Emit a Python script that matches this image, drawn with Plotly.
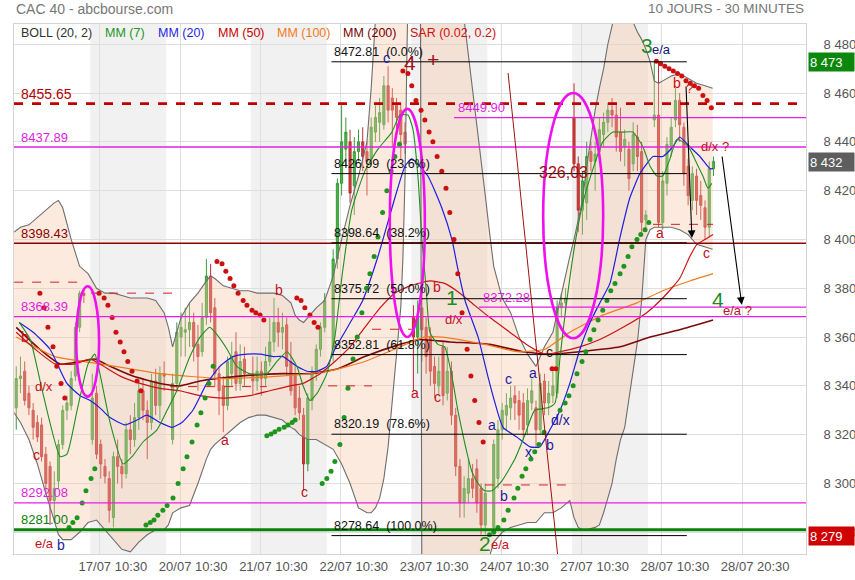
import plotly.graph_objects as go

# ---------------- time axis: 19 slots per trading day (18 half-hour bars + gap) ----------------
SLOTS = 19
day_first_bar = [1, 0, 0, 0, 0, 0, 0, 0, 0]   # 16/07 .. 28/07

# ---------------- candles (open, high, low, close) per day ----------------
ohlc_1607 = [(8331,8348,8322,8343),(8343,8352,8337,8344),(8346,8350,8332,8334),(8337,8340,8328,8331),
             (8330,8333,8318,8323),(8325,8328,8317,8319),(8324,8327,8309,8311),(8312,8315,8296,8300),
             (8307,8309,8283,8293),(8293,8305,8284,8298),(8301,8318,8298,8316),(8316,8332,8314,8330),
             (8330,8336,8326,8333),(8332,8346,8330,8343),(8344,8366,8342,8364),(8364,8379,8362,8378),
             (8378,8380,8374,8377)]
ohlc_1707 = [(8318,8345,8316,8335),(8337,8340,8310,8312),(8316,8318,8302,8308),(8307,8310,8300,8303),
             (8302,8305,8284,8289),(8286,8313,8282,8311),(8311,8318,8300,8307),(8307,8310,8298,8304),
             (8304,8325,8302,8322),(8322,8328,8312,8318),(8318,8333,8315,8327),(8327,8341,8322,8338),
             (8338,8343,8326,8330),(8330,8334,8310,8325),(8325,8345,8322,8342),(8342,8347,8328,8332),
             (8332,8348,8326,8345),(8345,8350,8338,8344)]
ohlc_2007 = [(8318,8345,8316,8341),(8341,8366,8338,8362),(8360,8370,8352,8364),(8362,8372,8352,8363),
             (8363,8374,8356,8366),(8366,8370,8350,8356),(8357,8365,8338,8352),(8354,8374,8352,8368),
             (8368,8392,8365,8385),(8385,8390,8366,8370),(8372,8376,8340,8345),(8345,8348,8328,8338),
             (8340,8344,8321,8332),(8332,8352,8330,8350),(8345,8358,8340,8352),(8354,8362,8338,8341),
             (8341,8357,8338,8350),(8351,8356,8340,8345)]
ohlc_2107 = [(8345,8352,8336,8342),(8342,8352,8338,8346),(8346,8350,8336,8343),(8343,8356,8340,8350),
             (8350,8368,8348,8358),(8358,8376,8354,8366),(8366,8372,8356,8362),(8362,8370,8355,8364),
             (8365,8368,8344,8348),(8350,8358,8336,8338),(8345,8348,8328,8331),(8335,8340,8326,8329),
             (8328,8331,8297,8308),(8308,8337,8305,8335),(8334,8348,8330,8346),(8345,8357,8342,8355),
             (8355,8366,8352,8364),(8364,8378,8362,8375)]
ohlc_2207 = [(8355,8396,8350,8392),(8392,8425,8388,8423),(8423,8455,8418,8440),(8437,8450,8430,8444),
             (8440,8445,8415,8419),(8422,8442,8410,8436),(8436,8445,8432,8440),(8440,8446,8428,8434),
             (8436,8440,8418,8432),(8433,8450,8430,8446),(8444,8455,8440,8450),(8448,8458,8440,8452),
             (8447,8467,8445,8463),(8463,8471,8448,8453),(8458,8462,8438,8453),(8455,8458,8445,8450),
             (8453,8456,8433,8443),(8444,8448,8435,8439)]
ohlc_2307 = [(8368,8373,8338,8360),(8360,8375,8345,8368),(8372,8378,8350,8363),(8364,8368,8345,8352),
             (8360,8364,8340,8346),(8348,8352,8335,8341),(8340,8352,8336,8346),(8356,8358,8332,8336),
             (8337,8356,8334,8346),(8346,8350,8324,8328),(8328,8331,8303,8307),(8307,8310,8286,8292),
             (8292,8303,8286,8298),(8296,8310,8292,8302),(8302,8308,8294,8298),(8306,8310,8288,8292),
             (8298,8300,8279,8283),(8283,8300,8279,8296)]
ohlc_2407 = [(8282,8318,8279,8316),(8302,8326,8298,8322),(8322,8333,8318,8330),(8328,8337,8322,8332),
             (8331,8340,8326,8335),(8336,8340,8326,8333),(8334,8338,8322,8328),(8333,8337,8318,8322),
             (8324,8339,8320,8334),(8333,8343,8330,8338),(8331,8334,8315,8322),(8322,8345,8320,8341),
             (8342,8345,8328,8333),(8333,8342,8328,8337),(8336,8346,8333,8340),(8337,8375,8335,8372),
             (8372,8378,8368,8374),(8374,8380,8370,8376)]
ohlc_2707 = [(8450,8464,8428,8431),(8431,8434,8403,8412),(8412,8428,8402,8424),(8415,8440,8408,8434),
             (8436,8440,8428,8432),(8432,8440,8420,8435),(8436,8450,8432,8445),(8443,8452,8438,8448),
             (8448,8456,8444,8453),(8453,8458,8446,8451),(8451,8455,8436,8442),(8444,8454,8432,8436),
             (8438,8445,8430,8441),(8437,8440,8420,8425),(8431,8448,8428,8443),(8442,8447,8428,8434),
             (8436,8440,8403,8407),(8408,8412,8404,8410)]
ohlc_2807 = [(8449,8473,8446,8451),(8451,8473,8405,8407),(8407,8428,8404,8424),(8423,8442,8418,8439),
             (8438,8450,8434,8446),(8449,8462,8446,8457),(8457,8460,8440,8447),(8446,8448,8422,8427),
             (8430,8433,8414,8418),(8416,8430,8412,8427),(8426,8429,8410,8416),(8418,8424,8408,8414),
             (8413,8416,8400,8405),(8405,8432,8401,8429),(8429,8434,8426,8432)]
days_ohlc = [ohlc_1607, ohlc_1707, ohlc_2007, ohlc_2107, ohlc_2207, ohlc_2307, ohlc_2407, ohlc_2707, ohlc_2807]

# ---------------- moving averages (slot, value) ----------------
mm7_t = [1.7,4.3,7.3,11.4,13.0,15.4,18.0,19.6,20.8,23.2,26.3,28.4,31.0,34.3,36.7,39.0,42.1,44.5,46.8,48.5,50.9,53.2,56.3,60.3,
         62.7,65.1,67.4,68.9,70.5,72.2,74.5,76.4,78.1,80.4,83.5,86.6,89.9,91.8,93.7,94.9,96.1,97.0,98.0,98.9,100.8,102.4,104.1,
         105.5,107.2,108.8,110.3,111.9,113.6,115.9,119.0,121.4,123.7,126.8,128.5,129.7,131.3,133.2,135.1,137.5,139.8,142.2,144.6,
         146.9,149.3,151.0,152.6,154.0,155.7,157.3,158.8,160.4,162.1,163.5,164.7,165.6]
mm7_v = [8366,8359,8337,8311,8312,8330,8349,8353,8345,8325,8308,8311,8317,8322,8330,8338,8352,8360,8364,8361,8355,8348,8345,8345,
         8350,8354,8348,8340,8334,8337,8345,8360,8385,8412,8428,8437,8444,8451,8451,8445,8425,8400,8380,8362,8357,8356,8344,
         8330,8316,8305,8300,8297,8297,8301,8310,8320,8330,8331,8333,8352,8375,8398,8415,8429,8440,8444,8444,
         8444,8438,8430,8426,8426,8433,8441,8440,8437,8431,8426,8421,8423]
mm20_t = [1.7,5.0,9.0,13.0,16.1,18.5,20.8,23.2,26.7,29.6,31.9,35.0,37.9,40.2,42.8,46.1,49.2,52.3,55.6,58.7,61.8,64.1,67.4,69.8,
          72.2,74.5,76.4,80.4,83.0,86.6,90.6,93.0,94.6,98.4,101.7,104.1,105.5,107.2,110.3,112.6,114.3,116.2,119.5,122.6,124.9,
          127.3,129.7,132.0,134.4,136.8,139.1,141.5,143.9,146.2,148.6,150.2,151.7,154.0,156.4,158.0,160.4,162.8,165.2,165.9]
mm20_v = [8366,8362,8355,8341,8336,8334,8331,8327,8324,8326,8328,8325,8323,8325,8330,8341,8348,8352,8353,8353,8352,8352,8348,8346,
          8346,8348,8355,8367,8375,8393,8417,8430,8433,8426,8413,8400,8388,8375,8360,8344,8333,8323,8319,8315,8315,
          8322,8330,8341,8355,8366,8374,8382,8401,8417,8427,8431,8434,8434,8438,8442,8438,8434,8429,8429]
mm50_t = [1.0,5.5,10.2,14.9,18.5,20.8,25.6,30.3,35.0,39.7,44.5,49.9,56.3,61.0,65.8,68.9,72.9,76.4,80.0,83.5,87.1,90.6,94.2,98.9,
          102.4,106.0,109.5,113.1,117.8,122.6,126.1,129.7,134.4,139.1,144.6,150.2,154.0,158.0,160.4,162.1,164.0,165.9]
mm50_v = [8362,8355,8349,8349,8351,8349,8344,8341,8339,8338,8336,8335,8336,8338,8340,8341,8345,8350,8356,8364,8372,8378,8381,8383,
          8382,8378,8373,8368,8362,8356,8353,8354,8356,8359,8364,8370,8376,8384,8393,8398,8400,8402]
mm100_t = [1.0,10.2,20.8,35.0,49.9,63.4,74.8,83.5,91.8,97.5,101.7,111.9,119.5,126.1,132.0,139.8,147.9,154.0,160.4,165.9]
mm100_v = [8360,8352,8349,8345,8343,8344,8346,8350,8356,8360,8360,8357,8354,8355,8362,8369,8374,8379,8383,8386]
mm200_t = [1.0,6.6,11.4,16.1,19.6,23.2,28.6,35.0,39.7,44.5,53.9,64.1,70.5,77.1,83.5,91.8,96.5,103.6,113.1,120.9,127.3,134.4,
           143.9,151.0,158.0,165.9]
mm200_v = [8364,8355,8349,8350,8351,8348,8344,8341,8340,8342,8344,8345,8345,8347,8352,8357,8359,8358,8357,8354,8353,8354,
           8356,8360,8363,8367]

# ---------------- Bollinger (20, 2) ----------------
boll_t = [0.5,2,4,6,8,10,11,12,14,16,18,20,22,24,26,28,30,32,34,36,37,38,39,40,42,44,46,47,48,50,52,54,56,58,60,62,64,66,67,68,
          69,70,72,74,76,78,80,82,84,85,86,87,88,89,90,91,92,92.5,93,93.5,94,95,96,96.6,97,98,100,102,104,106,107,108,109,110,
          111,112,113,114,116,118,120,122,124,125,126,128,130,132,133,134,135,136,138,139,140,141,142,143,144,145,146,147,148,
          149,150,151,152,153,154,156,158,160,162,164,165.8]
boll_up = [8403,8405,8406,8409,8412,8415,8416,8413,8400,8389,8386,8380,8378,8378,8377,8376,8376,8376,8375,8370,8364,8356,8362,
           8368,8374,8378,8383,8385,8384,8381,8380,8379,8379,8378,8378,8378,8377,8374,8369,8367,8366,8368,8372,8375,8385,8400,
           8414,8426,8440,8462,8490,8498,8505,8503,8500,8498,8496,8496,8497,8497,8498,8499,8500,8500,8500,8500,8502,8502,8500,
           8496,8490,8476,8462,8446,8432,8418,8403,8389,8376,8370,8360,8353,8348,8352,8356,8362,8378,8393,8400,8408,8416,8430,
           8453,8462,8470,8480,8487,8495,8500,8498,8492,8489,8485,8482,8478,8473,8465,8464,8465,8467,8468,8466,8464,8463,8462]
boll_lo = [8329,8325,8318,8308,8296,8284,8279,8277,8277,8280,8284,8285,8281,8277,8273,8272,8276,8279,8281,8281,8283,8288,8289,
           8290,8291,8300,8310,8314,8316,8319,8322,8325,8327,8328,8328,8327,8326,8323,8322,8320,8319,8318,8318,8316,8314,8308,
           8300,8290,8288,8288,8290,8294,8302,8315,8334,8352,8372,8392,8425,8480,8530,8550,8550,8540,8250,8240,8236,8236,8238,
           8242,8245,8248,8252,8256,8260,8265,8270,8276,8280,8282,8283,8284,8284,8286,8288,8288,8290,8293,8286,8282,8281,8281,
           8282,8283,8288,8294,8300,8310,8318,8323,8335,8348,8358,8375,8400,8404,8405,8405,8405,8405,8404,8402,8398,8397,8396]

# ---------------- SAR (0.02, 0.2) ----------------
sar_red_t = [6.6,7.6,8.5,9.7,10.6,11.6,12.5,
             20.6,21.8,22.7,23.7,24.6,25.6,26.5,27.4,28.4,29.6,30.5,
             48.5,49.7,50.6,51.6,52.5,53.5,54.7,55.6,56.8,57.7,58.7,59.6,
             67.4,68.4,69.3,70.5,71.5,72.4,
             92.5,93.7,94.6,95.6,96.8,97.7,98.7,99.6,100.6,101.7,102.7,103.6,104.6,105.5,106.5,107.7,108.6,109.5,110.5,111.5,
             127.8,128.7,
             152.5,153.5,154.5,155.5,156.5,157.5,158.5,159.5,160.5,161.5,162.5,163.5,164.5,165.5]
sar_red_v = [8378,8372,8364,8356,8348,8341,8335,
             8378,8376,8373,8368,8362,8358,8354,8350,8346,8342,8338,
             8391,8390,8387,8384,8381,8378,8375,8373,8371,8370,8369,8367,
             8376,8375,8372,8369,8366,8364,
             8469,8468,8463,8457,8453,8449,8444,8440,8434,8428,8421,8411,8400,8386,8370,8355,8344,8334,8325,8317,
             8347,8347,
             8473,8472,8471,8470,8469,8468,8467,8465,8464,8463,8462,8459,8457,8454]
sar_green_t = [13.5,14.4,15.4,16.6,17.5,18.7,19.6,
               31.7,32.7,33.6,34.5,35.7,36.7,38.1,39.3,40.5,41.4,42.6,43.8,44.7,45.7,46.6,47.6,
               60.3,61.3,62.2,63.2,64.4,65.3,66.3,67.0,
               73.4,74.5,75.5,76.4,77.6,78.6,79.5,80.7,81.7,82.8,83.9,84.7,85.7,86.6,87.7,88.7,89.7,90.6,91.7,
               113.0,114.0,115.0,116.4,117.4,118.8,119.7,120.7,121.6,122.8,123.7,124.7,125.9,
               129.7,130.9,131.8,132.8,133.7,134.9,135.8,136.8,137.7,138.7,139.8,140.8,141.7,142.7,143.9,144.8,145.8,146.7,
               147.9,148.8,149.8,150.7]
sar_green_v = [8282,8284,8286,8292,8297,8302,8306,
               8283,8284,8285,8287,8289,8291,8294,8300,8306,8311,8317,8324,8329,8335,8341,8348,
               8319.6,8320.3,8321.2,8322.2,8323,8324,8325,8326,
               8300,8302,8305,8309,8316,8327,8339,8351,8360,8370,8380,8386,8393,8401,8411,8420,8428,8434,8439,
               8279,8280,8282,8285,8289,8294,8298,8303,8306,8310,8313,8316,8321,
               8330,8333,8336,8340,8345,8350,8354,8359,8363,8367,8371,8375,8379,8382,8386,8389,8393,8397,
               8400,8402,8404,8407]

# ---------------- horizontal levels ----------------
level_values = [8455.65, 8437.89, 8398.43, 8368.39, 8292.08, 8281.00]
level_labels = ["8455.65", "8437.89", "8398.43", "8368.39", "8292.08", "8281.00"]
part_levels = [8449.90, 8372.28]
part_starts = [104.6, 110.5]
fib_values = [8472.81, 8426.99, 8398.64, 8375.72, 8352.81, 8320.19, 8278.64]
fib_pcts = ["0.0%", "23.6%", "38.2%", "50.0%", "61.8%", "78.6%", "100.0%"]
fib_span = (75.6, 159.7)
dash_levels = [8382.5, 8378.0, 8339.7, 8340.0, 8363.2, 8299.4, 8406.2]
dash_starts = [0.5, 18.7, 37.4, 74.8, 85.2, 111.9, 151.7]
dash_ends = [16.8, 38.3, 60.3, 85.2, 94.6, 132.5, 165.9]

# wave labels: text, slot, value, colour key, size
wave_labels = [
    ("c", 88.7, 8474.4, "blue", 14), ("4", 94.2, 8472.7, "dred", 21), ("+", 99.6, 8473.6, "dred", 21),
    ("3", 150.3, 8479.3, "green", 21), ("e/a", 153.8, 8477.7, "navy", 13),
    ("b", 157.4, 8464.2, "red", 14), ("?", 160.4, 8462.0, "red", 13), ("d/x ?", 166.4, 8438.3, "red", 13),
    ("326,03", 130.4, 8427.3, "dred", 16),
    ("1", 104.1, 8376.4, "green", 21), ("b", 100.6, 8380.5, "red", 14), ("d/x", 104.6, 8367.0, "red", 13),
    ("a", 95.4, 8337.2, "red", 14), ("c", 100.6, 8335.6, "red", 14),
    ("4", 167.1, 8375.2, "green", 21), ("e/a ?", 171.6, 8370.7, "red", 13),
    ("2", 111.9, 8275.6, "green", 21), ("e/a", 115.5, 8274.8, "red", 13),
    ("a", 153.3, 8402.7, "red", 14), ("c", 164.4, 8394.5, "red", 14),
    ("b", 63.2, 8379.3, "red", 14), ("a", 50.4, 8317.8, "red", 14), ("c", 69.3, 8296.5, "red", 14),
    ("b", 3.1, 8360.0, "red", 14), ("d/x", 7.6, 8339.6, "red", 13), ("c", 5.7, 8311.8, "red", 14),
    ("e/a", 7.6, 8275.3, "red", 13), ("b", 11.6, 8274.9, "blue", 14),
    ("c", 117.4, 8342.9, "blue", 14), ("a", 123.3, 8345.4, "blue", 14), ("a", 113.6, 8324.0, "blue", 14),
    ("x", 122.3, 8313.0, "blue", 14), ("b", 127.3, 8315.8, "blue", 14), ("b", 116.4, 8294.9, "blue", 14),
    ("d/x", 129.7, 8326.0, "blue", 14), ("c", 127.3, 8354.0, "black", 14),
]
# ellipses (slot0, slot1, value0, value1)
ellipses = [(15.2, 20.6, 8335.6, 8380.8), (89.4, 97.7, 8360.0, 8453.5), (125.7, 139.9, 8359.5, 8460.0)]
# arrows (tail slot, tail value, head slot, head value)
arrows = [(159.5, 8463.3, 160.9, 8400.6), (168.0, 8434.6, 172.7, 8373.2)]
trend_line = (117.4, 8468.2, 129.1, 8271.1)

tick_labels = ["17/07 10:30", "20/07 10:30", "21/07 10:30", "22/07 10:30", "23/07 10:30",
               "24/07 10:30", "27/07 10:30", "28/07 10:30", "28/07 20:30"]
y_ticks = list(range(8280, 8481, 20))
price_tags = [(8472.6, "8 473", "#0b870b"), (8431.6, "8 432", "#5e5e5e"), (8278.3, "8 279", "#d00000")]
legend_items = [("BOLL (20, 2)", "#333333"), ("MM (7)", "#1a961a"), ("MM (20)", "#1f1fe0"), ("MM (50)", "#c80000"),
                ("MM (100)", "#f07a20"), ("MM (200)", "#7a0000"), ("SAR (0.02, 0.2)", "#d01010")]

# ======================================================================================
COL = {"red": "#c4101c", "dred": "#a3101a", "blue": "#1c1c9c", "navy": "#12127a", "green": "#1e8c1e", "black": "#222222"}
FONT = "Liberation Sans, Arial, sans-serif"

cx, co, ch, cl, cc = [], [], [], [], []
for d, rows in enumerate(days_ohlc):
    for k, (o, h, l, c) in enumerate(rows):
        cx.append(SLOTS * d + day_first_bar[d] + k)
        co.append(o); ch.append(h); cl.append(l); cc.append(c)

fig = go.Figure()
fig.add_trace(go.Scatter(x=boll_t, y=boll_up, mode="lines", line=dict(color="#6e6e6e", width=1.1),
                         hoverinfo="skip", showlegend=False))
fig.add_trace(go.Scatter(x=boll_t, y=boll_lo, mode="lines", line=dict(color="#6e6e6e", width=1.1),
                         fill="tonexty", fillcolor="rgba(246,196,165,0.36)", hoverinfo="skip", showlegend=False))

for t, v, col, w in [(mm200_t, mm200_v, "#7a0a0a", 1.6), (mm100_t, mm100_v, "#f07a20", 1.2),
                     (mm50_t, mm50_v, "#c81414", 1.2), (mm20_t, mm20_v, "#1f1fe0", 1.2),
                     (mm7_t, mm7_v, "#1f8f1f", 1.1)]:
    fig.add_trace(go.Scatter(x=t, y=v, mode="lines", line=dict(color=col, width=w, shape="spline", smoothing=0.5),
                             hoverinfo="skip", showlegend=False))

fig.add_trace(go.Candlestick(x=cx, open=co, high=ch, low=cl, close=cc, whiskerwidth=0,
                             increasing=dict(line=dict(color="#3a9a3a", width=1), fillcolor="#45b845"),
                             decreasing=dict(line=dict(color="#b83030", width=1), fillcolor="#d23a3a"),
                             hoverinfo="skip", showlegend=False))

fig.add_trace(go.Scatter(x=sar_red_t, y=sar_red_v, mode="markers", marker=dict(color="#cc1010", size=5),
                         hoverinfo="skip", showlegend=False))
fig.add_trace(go.Scatter(x=sar_green_t, y=sar_green_v, mode="markers", marker=dict(color="#1e961e", size=5),
                         hoverinfo="skip", showlegend=False))

shapes = []
for d in (1, 3, 5, 7):
    shapes.append(dict(type="rect", xref="x", yref="paper", x0=SLOTS * d - 0.5, x1=SLOTS * d + 17.5, y0=0, y1=1,
                       fillcolor="#f1f1f1", line=dict(width=0), layer="below"))
level_styles = [dict(color="#c00000", width=2.6, dash="dash"), dict(color="#e61ee6", width=1.3),
                dict(color="#8b0000", width=1.6), dict(color="#e61ee6", width=1.3),
                dict(color="#e61ee6", width=1.3), dict(color="#0b800b", width=3)]
level_colors = ["#b00000", "#e01ee0", "#8b0000", "#e01ee0", "#e01ee0", "#0b800b"]
for v, st in zip(level_values, level_styles):
    shapes.append(dict(type="line", xref="paper", yref="y", x0=0, x1=1, y0=v, y1=v, line=st, layer="above"))
for v, s in zip(part_levels, part_starts):
    shapes.append(dict(type="line", xref="x", yref="y", x0=s, x1=187.9, y0=v, y1=v,
                       line=dict(color="#e61ee6", width=1.3), layer="above"))
for v in fib_values:
    shapes.append(dict(type="line", xref="x", yref="y", x0=fib_span[0], x1=fib_span[1], y0=v, y1=v,
                       line=dict(color="#000000", width=1), layer="above"))
for v, a, b in zip(dash_levels, dash_starts, dash_ends):
    shapes.append(dict(type="line", xref="x", yref="y", x0=a, x1=b, y0=v, y1=v,
                       line=dict(color="#d02020", width=1, dash="dash"), layer="above"))
for (a, b, lo, hi) in ellipses:
    shapes.append(dict(type="circle", xref="x", yref="y", x0=a, x1=b, y0=lo, y1=hi,
                       line=dict(color="#ee10ee", width=2.6), layer="above"))
shapes.append(dict(type="line", xref="x", yref="y", x0=trend_line[0], y0=trend_line[1], x1=trend_line[2],
                   y1=trend_line[3], line=dict(color="#a01010", width=1), layer="above"))

ann = []
for v, txt, col in zip(level_values, level_labels, level_colors):
    ann.append(dict(x=1.66, y=v, xref="x", yref="y", text=txt, showarrow=False, xanchor="left", yanchor="middle",
                    yshift=10, font=dict(family=FONT, size=14 if txt == "8455.65" else 13, color=col)))
for v, s in zip(part_levels, part_starts):
    ann.append(dict(x=s + 0.4, y=v, xref="x", yref="y", text=f"{v:.2f}", showarrow=False, xanchor="left",
                    yanchor="middle", yshift=10, font=dict(family=FONT, size=13, color="#e01ee0")))
for v, p in zip(fib_values, fib_pcts):
    ann.append(dict(x=fib_span[0] + 0.1, y=v, xref="x", yref="y", text=f"{v:.2f}\u00a0 ({p})", showarrow=False,
                    xanchor="left", yanchor="middle", yshift=10, font=dict(family=FONT, size=12.5, color="#111")))
for txt, t, v, ck, sz in wave_labels:
    ann.append(dict(x=t, y=v, xref="x", yref="y", text=txt, showarrow=False, xanchor="center", yanchor="middle",
                    font=dict(family=FONT, size=sz, color=COL[ck])))
for (tx, tv, hx, hv) in arrows:
    ann.append(dict(x=hx, y=hv, ax=tx, ay=tv, xref="x", yref="y", axref="x", ayref="y", text="", showarrow=True,
                    arrowhead=2, arrowsize=1.4, arrowwidth=1.1, arrowcolor="#000"))
for v, txt, col in price_tags:
    ann.append(dict(x=1, y=v, xref="paper", yref="y", text=txt, showarrow=False, xanchor="left", yanchor="middle",
                    xshift=2, bgcolor=col, width=43, height=16, align="left", borderpad=1,
                    font=dict(family=FONT, size=13, color="#ffffff")))
legend_x = [19.3, 102.7, 156.0, 215.7, 275.3, 341.0, 408.0]
for (txt, col), px in zip(legend_items, legend_x):
    ann.append(dict(x=(px - 14) / 792, y=1 - 8.5 / 530, xref="paper", yref="paper", text=txt, showarrow=False,
                    xanchor="left", yanchor="middle", font=dict(family=FONT, size=12.5, color=col)))
ann.append(dict(x=0, y=1 + 15 / 530, xref="paper", yref="paper", text="CAC 40 - abcbourse.com", showarrow=False,
                xanchor="left", yanchor="middle", font=dict(family=FONT, size=14, color="#777")))
ann.append(dict(x=1, y=1 + 15 / 530, xref="paper", yref="paper", text="10 JOURS - 30 MINUTES", showarrow=False,
                xanchor="right", yanchor="middle", font=dict(family=FONT, size=13.5, color="#777")))

fig.update_layout(
    width=855, height=580, margin=dict(l=14, r=49, t=24, b=26, autoexpand=False),
    paper_bgcolor="white", plot_bgcolor="white", shapes=shapes, annotations=ann, showlegend=False,
    xaxis=dict(range=[0.47, 187.9], tickvals=[20.8 + SLOTS * m for m in range(len(tick_labels))], ticktext=tick_labels,
               showgrid=True, gridcolor="#dedede", gridwidth=1, zeroline=False, ticks="", showline=True,
               linecolor="#d4d4d4", mirror=True, rangeslider=dict(visible=False), ticklabelshift=13,
               automargin=False, tickfont=dict(family=FONT, size=13, color="#555")),
    yaxis=dict(range=[8271.1, 8488.3], side="right", tickvals=y_ticks,
               ticktext=[f"{v // 1000} {v % 1000:03d}" for v in y_ticks], showgrid=True, gridcolor="#dedede",
               zeroline=False, ticks="", showline=True, linecolor="#d4d4d4", mirror=True, ticklabelstandoff=14,
               automargin=False, tickfont=dict(family=FONT, size=13, color="#555")),
)
fig.write_html("out.html", config={"displayModeBar": False, "staticPlot": True},
               post_script="document.body.style.margin='0px';document.body.style.overflow='hidden';")
